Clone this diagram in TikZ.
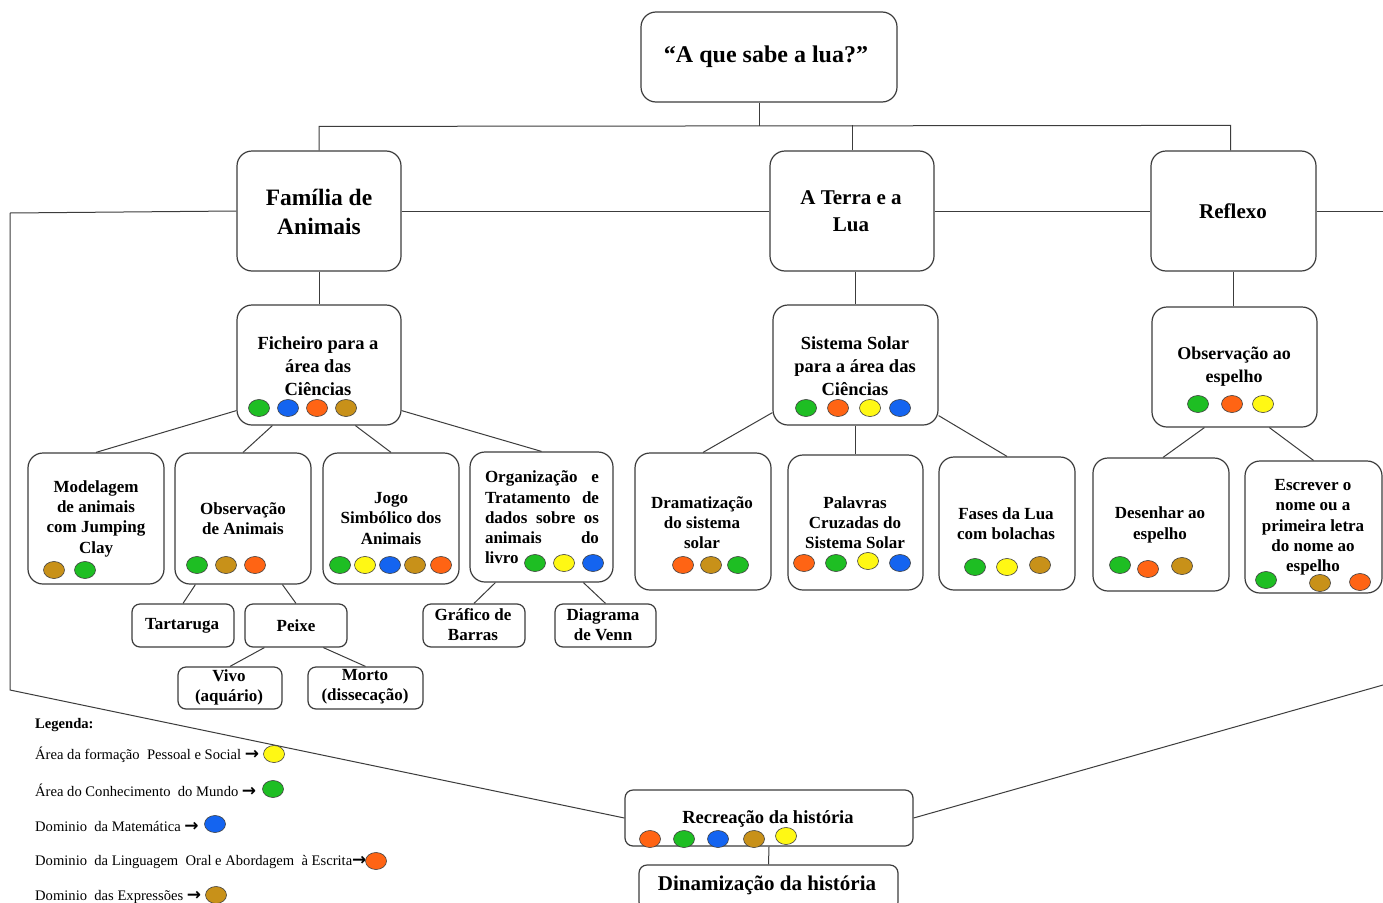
\documentclass[tikz,border=0pt]{standalone}
\usepackage{fontspec}
\setmainfont{Liberation Serif}
\newfontfamily\symfont{DejaVu Sans}
\usetikzlibrary{shapes.geometric,calc}
\definecolor{lnc}{RGB}{60,60,60}
\definecolor{cgreen}{RGB}{30,190,35}
\definecolor{cblue}{RGB}{20,100,240}
\definecolor{corange}{RGB}{255,100,20}
\definecolor{cgold}{RGB}{200,145,25}
\definecolor{cyellow}{RGB}{255,248,20}
\newcommand\fs[2]{\fontsize{#1pt}{#2pt}\selectfont\bfseries}
\newcommand\dt[4]{\node[dot,fill=#1] (#2) at (#3,#4) {};}
\newcommand\jl[1]{\makebox[114pt][s]{#1}}
\newcommand\arr{{\symfont\bfseries\fontsize{17pt}{16pt}\selectfont →}}
\begin{document}
\begin{tikzpicture}[x=1pt,y=-1pt,
  box/.style={draw=lnc, line width=1.2pt, fill=white, rounded corners=15pt, inner sep=0pt},
  sbox/.style={box, rounded corners=8pt},
  txt/.style={align=center, inner sep=0pt, text=black},
  conn/.style={draw=lnc, line width=1pt},
  dot/.style={ellipse, draw=black!75, line width=0.6pt, minimum width=21pt, minimum height=17pt, inner sep=0pt},
  leg/.style={anchor=west, inner sep=0pt, font=\fontsize{14.6pt}{16pt}\selectfont}]
\useasboundingbox (0,0) rectangle (1383,902);
\fill[white] (0,0) rectangle (1383,902);

% boxes
\node[box, minimum width=256pt, minimum height=90pt] (title) at (769,57) {};
\node[box, minimum width=164pt, minimum height=120pt] (fam) at (319,211) {};
\node[box, minimum width=164pt, minimum height=120pt] (terra) at (852,211) {};
\node[box, minimum width=165pt, minimum height=120pt] (refl) at (1233.5,211) {};
\node[box, minimum width=164pt, minimum height=120pt] (fich) at (319,365) {};
\node[box, minimum width=165pt, minimum height=120pt] (sist) at (855.5,365) {};
\node[box, minimum width=165pt, minimum height=120pt] (obsesp) at (1234.5,367) {};
\node[box, minimum width=136pt, minimum height=131pt] (model) at (96,518.5) {};
\node[box, minimum width=136pt, minimum height=131pt] (obsan) at (243,518.5) {};
\node[box, minimum width=136pt, minimum height=131pt] (jogo) at (391,518.5) {};
\node[box, minimum width=143pt, minimum height=130pt] (org) at (541.5,517) {};
\node[box, minimum width=136pt, minimum height=137pt] (drama) at (703,521.5) {};
\node[box, minimum width=135pt, minimum height=135pt] (palav) at (855.5,522.5) {};
\node[box, minimum width=136pt, minimum height=133pt] (fases) at (1007,523.5) {};
\node[box, minimum width=136pt, minimum height=133pt] (desen) at (1161,524.5) {};
\node[box, minimum width=137pt, minimum height=132pt] (escr) at (1313.5,527) {};
\node[sbox, minimum width=102pt, minimum height=43pt] (tart) at (183,625.5) {};
\node[sbox, minimum width=102pt, minimum height=43pt] (peixe) at (296,625.5) {};
\node[sbox, minimum width=104pt, minimum height=42pt] (vivo) at (230,688) {};
\node[sbox, minimum width=115pt, minimum height=42pt] (morto) at (365.5,688) {};
\node[sbox, minimum width=102pt, minimum height=43pt] (graf) at (474,625.5) {};
\node[sbox, minimum width=101pt, minimum height=43pt] (diag) at (605.5,625.5) {};
\node[sbox, minimum width=288pt, minimum height=56pt] (recr) at (769,818) {};
\node[sbox, minimum width=259pt, minimum height=45pt] (dinam) at (768.5,887.5) {};

% free ends
\coordinate (tb) at (759,126);
\coordinate (lt) at (10,213);
\coordinate (lb) at (10,690);
\coordinate (rt) at (1383,211);
\coordinate (rb) at (1383,685);

% connectors
\draw[conn] ($(title.south)+(-10,0)$) -- (tb);
\draw[conn] (fam.north) -- ++(0,-24) -- ($(refl.north)+(-3,-25)$) -- ($(refl.north)+(-3,0)$);
\draw[conn] (terra.north) -- ++(0,-25);
\draw[conn] (lt) -- (fam.west);
\draw[conn] (fam.east) -- (terra.west);
\draw[conn] (terra.east) -- (refl.west);
\draw[conn] (refl.east) -- (rt);
\draw[conn] (lt) -- (lb) -- (recr.west);
\draw[conn] (recr.east) -- (rb);
\draw[conn] (recr.south) -- (dinam.north);
\draw[conn] (fam.south) -- (fich.north);
\draw[conn] (sist.north |- terra.south) -- (sist.north);
\draw[conn] (refl.south) -- (refl.south |- obsesp.north);
\draw[conn] ($(fich.south west)+(0,-15)$) -- (model.north);
\draw[conn] ($(fich.south west)+(36,0)$) -- (obsan.north);
\draw[conn] ($(fich.south west)+(119,0)$) -- (jogo.north);
\draw[conn] ($(fich.south east)+(0,-15)$) -- (org.north);
\draw[conn] ($(sist.south west)+(0,-13)$) -- (drama.north);
\draw[conn] (palav.north |- sist.south) -- (palav.north);
\draw[conn] ($(sist.south east)+(0,-10)$) -- (fases.north);
\draw[conn] ($(obsesp.south west)+(53,0)$) -- ($(desen.north)+(2,0)$);
\draw[conn] ($(obsesp.south west)+(118,0)$) -- (escr.north);
\draw[conn] ($(obsan.south west)+(21,0)$) -- (tart.north);
\draw[conn] ($(obsan.south west)+(108,0)$) -- (peixe.north);
\draw[conn] ($(peixe.south west)+(20,0)$) -- (vivo.north);
\draw[conn] ($(peixe.south west)+(79,0)$) -- (morto.north);
\draw[conn] ($(org.south west)+(26,0)$) -- (graf.north);
\draw[conn] ($(org.south west)+(114,0)$) -- (diag.north);

% texts
\node[txt, font=\fs{24}{28}] (ttitle) at (766,57) {“A que sabe a lua?”};
\node[txt, font=\fs{23.5}{29}] (tfam) at (319,211.5) {Família de\\Animais};
\node[txt, font=\fs{21}{27}] (tterra) at (851,211.5) {A Terra e a\\Lua};
\node[txt, font=\fs{21}{27}] (trefl) at (1233,211) {Reflexo};
\node[txt, font=\fs{18.5}{23}] (tfich) at (318,366) {Ficheiro para a\\área das\\Ciências};
\node[txt, font=\fs{18.5}{23}] (tsist) at (855,366) {Sistema Solar\\para a área das\\Ciências};
\node[txt, font=\fs{18}{23}] (tobsesp) at (1234,366.5) {Observação ao\\espelho};
\node[txt, font=\fs{17}{20.3}] (tmodel) at (96,518.5) {Modelagem\\de animais\\com Jumping\\Clay};
\node[txt, font=\fs{17}{20.3}] (tobsan) at (243,519) {Observação\\de Animais};
\node[txt, font=\fs{17}{20.3}] (tjogo) at (391,518.5) {Jogo\\Simbólico dos\\Animais};
\node[txt, align=left, font=\fs{17}{20.3}] (torg) at (542,517.5) {\jl{Organização e}\\\jl{Tratamento de}\\\jl{dados sobre os}\\\jl{animais do}\\livro};
\node[txt, font=\fs{17}{20.3}] (tdrama) at (702,522.5) {Dramatização\\do sistema\\solar};
\node[txt, font=\fs{17}{20.3}] (tpalav) at (855,522.5) {Palavras\\Cruzadas do\\Sistema Solar};
\node[txt, font=\fs{17}{20.3}] (tfases) at (1006,524) {Fases da Lua\\com bolachas};
\node[txt, font=\fs{17}{20.3}] (tdesen) at (1160,525) {Desenhar ao\\espelho};
\node[txt, font=\fs{17}{20.3}] (tescr) at (1313,527.5) {Escrever o\\nome ou a\\primeira letra\\do nome ao\\espelho};
\node[txt, font=\fs{17}{20}] (ttart) at (182,626) {Tartaruga};
\node[txt, font=\fs{17}{20}] (tpeixe) at (296,626) {Peixe};
\node[txt, font=\fs{17}{20}] (tvivo) at (229,687) {Vivo\\(aquário)};
\node[txt, font=\fs{17}{20}] (tmorto) at (365,687) {Morto\\(dissecação)};
\node[txt, font=\fs{17}{20}] (tgraf) at (473,625) {Gráfico de\\Barras};
\node[txt, font=\fs{17}{20}] (tdiag) at (603,625) {Diagrama\\de Venn};
\node[txt, font=\fs{18.5}{22}] (trecr) at (768,819) {Recreação da história};
\node[txt, font=\fs{21}{24}] (tdinam) at (767,885) {Dinamização da história};

% legend
\node[leg, font=\fontsize{14.6pt}{16pt}\selectfont\bfseries] (lg0) at (35,725) {Legenda:};
\node[leg] (lg1) at (35,755) {Área da formação\ \ Pessoal e Social \arr};
\node[leg] (lg2) at (35,790) {Área do Conhecimento\ \ do Mundo \arr};
\node[leg] (lg3) at (35,826) {Dominio\ \ da Matemática \arr};
\node[leg] (lg4) at (35,862) {Dominio\ \ da Linguagem\ \ Oral e Abordagem\ \ à Escrita\arr};
\node[leg] (lg5) at (35,897) {Dominio\ \ das Expressões \arr};

% dots
\dt{cgreen}{a1}{259}{408} \dt{cblue}{a2}{288}{408} \dt{corange}{a3}{317}{408} \dt{cgold}{a4}{346}{408}
\dt{cgreen}{b1}{806}{408} \dt{corange}{b2}{838}{408} \dt{cyellow}{b3}{870}{408} \dt{cblue}{b4}{900}{408}
\dt{cgreen}{c1}{1198}{404} \dt{corange}{c2}{1232}{404} \dt{cyellow}{c3}{1263}{404}
\dt{cgold}{e1}{54}{570} \dt{cgreen}{e2}{85}{570}
\dt{cgreen}{f1}{197}{565} \dt{cgold}{f2}{226}{565} \dt{corange}{f3}{255}{565}
\dt{cgreen}{g1}{340}{565} \dt{cyellow}{g2}{365}{565} \dt{cblue}{g3}{390}{565} \dt{cgold}{g4}{415}{565} \dt{corange}{g5}{441}{565}
\dt{cgreen}{h1}{535}{563} \dt{cyellow}{h2}{564}{563} \dt{cblue}{h3}{593}{563}
\dt{corange}{i1}{683}{565} \dt{cgold}{i2}{711}{565} \dt{cgreen}{i3}{738}{565}
\dt{corange}{j1}{804}{563} \dt{cgreen}{j2}{836}{563} \dt{cyellow}{j3}{868}{561} \dt{cblue}{j4}{900}{563}
\dt{cgreen}{k1}{975}{567} \dt{cyellow}{k2}{1007}{567} \dt{cgold}{k3}{1040}{565}
\dt{cgreen}{m1}{1120}{565} \dt{corange}{m2}{1148}{569} \dt{cgold}{m3}{1182}{566}
\dt{cgreen}{n1}{1266}{580} \dt{cgold}{n2}{1320}{583} \dt{corange}{n3}{1360}{582}
\dt{corange}{p1}{650}{839} \dt{cgreen}{p2}{684}{839} \dt{cblue}{p3}{718}{839} \dt{cgold}{p4}{754}{839} \dt{cyellow}{p5}{786}{836}
\dt{cyellow}{q1}{274}{754} \dt{cgreen}{q2}{273}{789} \dt{cblue}{q3}{215}{824} \dt{corange}{q4}{376}{861} \dt{cgold}{q5}{216}{895}
\end{tikzpicture}
\end{document}
